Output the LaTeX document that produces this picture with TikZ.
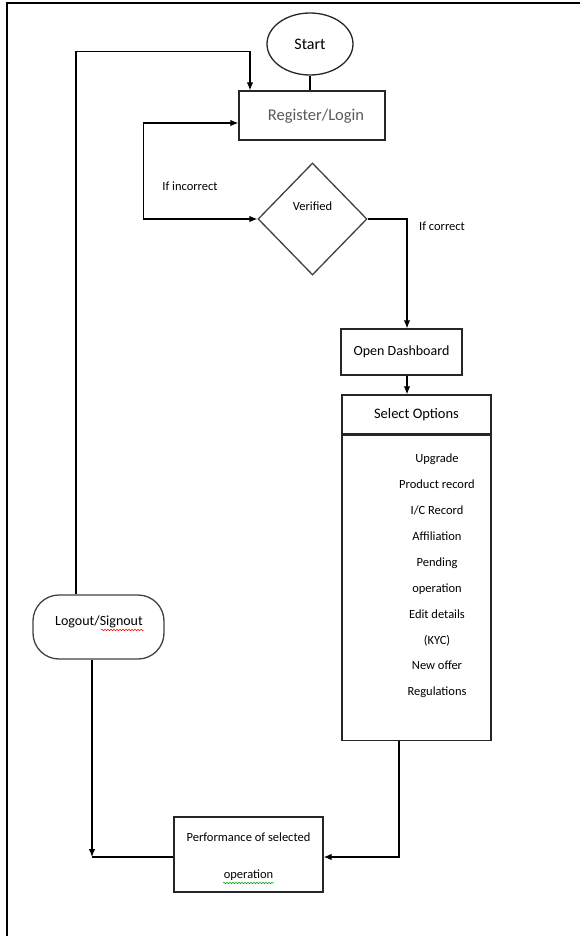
\documentclass[tikz,border=0pt]{standalone}
\usepackage{fontspec}
\setmainfont{Carlito}
\usetikzlibrary{positioning,arrows,arrows.meta}
\usetikzlibrary{shapes.geometric,decorations.pathmorphing}

\begin{document}
\begin{tikzpicture}[
x=1pt,y=-1pt,
flowbox/.style={rectangle, draw=black!85, line width=1.3pt, inner sep=0pt},
termnode/.style={ellipse, draw=black!85, line width=1.3pt, inner sep=0pt, minimum width=86pt, minimum height=62pt},
decision/.style={diamond, draw=black!75, line width=1.3pt, inner sep=0pt, minimum width=109pt, minimum height=112pt},
roundbox/.style={rectangle, rounded corners=26pt, draw=black!75, line width=1.3pt, inner sep=0pt, minimum width=131pt, minimum height=64pt},
flow/.style={line width=1.1pt, >={Latex[length=8pt,width=6.5pt]}},
squiggle/.style={decorate, decoration={snake, amplitude=0.8pt, segment length=3pt}, line width=0.5pt},
mainfont/.style={font=\fontsize{14}{16}\selectfont},
smallfont/.style={font=\fontsize{12.5}{15}\selectfont}
]
\useasboundingbox (0,0) rectangle (580,936);
%Frame
\draw[line width=2.5pt] (7,936) -- (7,3) -- (580,3);
%Nodes
\node[termnode]   (start)     at (310,44)    {\fontsize{16}{18}\selectfont Start};
\node[flowbox, minimum width=146pt, minimum height=49pt] (register) at (312,115.5) {};
\node[text=black!65, font=\fontsize{16.5}{18}\selectfont] (registertext) at (316,116) {Register/Login};
\node[decision, label={[smallfont, yshift=13pt]center:Verified}] (verified) at (312.5,219) {};
\node[smallfont] (incorrect) at (190,186) {If incorrect};
\node[smallfont] (correct)   at (442,226) {If correct};
\node[flowbox, mainfont, minimum width=121pt, minimum height=46pt] (dashboard) at (401.5,352) {Open Dashboard};
\node[flowbox, minimum width=149pt, minimum height=39pt, font=\fontsize{14.5}{16}\selectfont] (opthead) at (416.5,414.5) {Select Options};
\node[flowbox, minimum width=149pt, minimum height=305pt] (optbody) [below=0pt of opthead] {};
\node[align=center, font=\fontsize{12.5}{25.9}\selectfont] (optlist) at (437,576) {Upgrade\\Product record\\I/C Record\\Affiliation\\Pending\\operation\\Edit details\\(KYC)\\New offer\\Regulations};
\node[roundbox] (logout) at (98.5,627) {};
\node[mainfont] (logouttext) at (99,622) {Logout/Signout};
\node[flowbox, minimum width=149pt, minimum height=75pt] (perf) at (248.5,854.5) {};
\node[smallfont] (perfline1) at (248.5,837) {Performance of selected};
\node[smallfont] (perfline2) at (248.5,875) {operation};
%Spell marks
\draw[squiggle, red] (101,630) -- (144,630);
\draw[squiggle, green!60!black] (223,883) -- (274,883);
%Lines
\draw[flow] (start.south) -- (start.south |- register.north);
\draw[flow,->] ([xshift=-22.5pt]logout.north) -- ++(0,-543) -| ([xshift=-62pt]register.north);
\draw[flow,<->] (verified.west) -- ++(-114,0) |- ([yshift=-7.5pt]register.west);
\draw[flow,->] (verified.east) -| ([xshift=5.5pt]dashboard.north);
\coordinate (dashout) at ([xshift=5.5pt]dashboard.south);
\draw[flow,->] (dashout) -- (dashout |- opthead.north);
\coordinate (perfin) at ([yshift=-2.5pt]perf.east);
\draw[flow,->] ([xshift=-17.5pt]optbody.south) |- (perfin);
\coordinate (perfleft) at ([yshift=-2.5pt]perf.west);
\coordinate (logoutdown) at ([xshift=-6.5pt]logout.south);
\coordinate (lgcorner) at (logoutdown |- perfleft);
\draw[flow,->] (logoutdown) -- (lgcorner);
\draw[flow] (perfleft) -- (lgcorner);
\end{tikzpicture}
\end{document}
